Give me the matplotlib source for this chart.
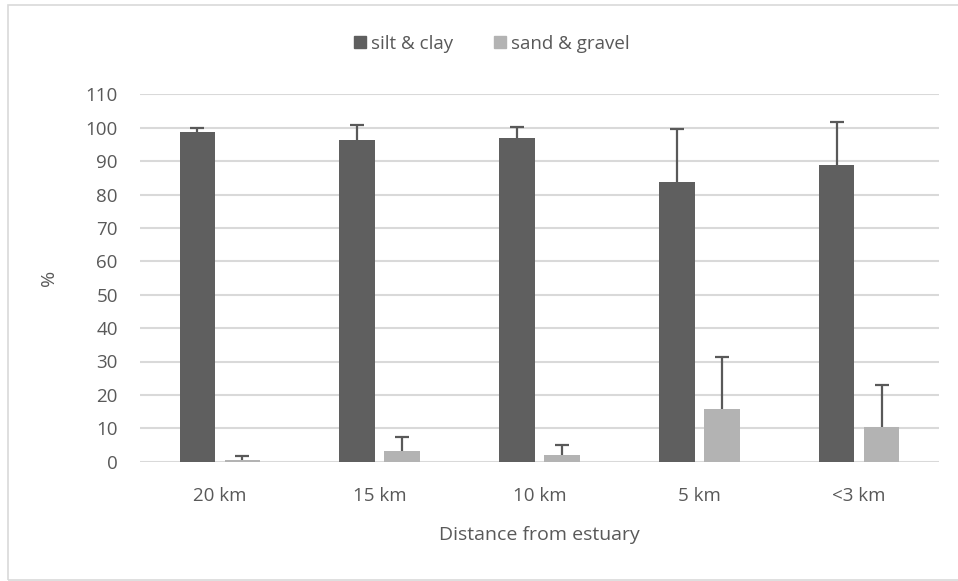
import matplotlib.pyplot as plt
from matplotlib.patches import Rectangle
from matplotlib.lines import Line2D
import numpy as np

plt.rcParams['font.family'] = ['Open Sans', 'DejaVu Sans']

# data
categories = ['20 km', '15 km', '10 km', '5 km', '<3 km']
silt_clay = [98.6, 96.3, 97.0, 83.8, 88.8]
silt_clay_err = [1.4, 4.5, 3.3, 15.8, 12.8]
sand_gravel = [0.5, 3.2, 2.0, 15.8, 10.4]
sand_gravel_err = [1.3, 4.3, 2.9, 15.5, 12.5]
yticks = list(range(0, 111, 10))

txt = '#595959'
dark = '#5f5f5f'
light = '#b3b3b3'
grid = '#d9d9d9'

fig = plt.figure(figsize=(9.58, 5.81), dpi=100)
ax = fig.add_axes([140/958, (581-461.7)/581, 799/958, 367.4/581])

x = np.arange(len(categories))
w = 0.222
off = 0.141

ax.bar(x - off, silt_clay, w, color=dark, zorder=3)
ax.bar(x + off, sand_gravel, w, color=light, zorder=3)
for xs, vals, errs in [(x - off, silt_clay, silt_clay_err), (x + off, sand_gravel, sand_gravel_err)]:
    eb = ax.errorbar(xs, vals, yerr=[np.zeros(len(x)), errs], fmt='none',
                     ecolor=txt, elinewidth=1.6, capsize=4.7, capthick=1.6, zorder=4)
    # only the upper whisker has a cap
    eb[1][0].set_visible(False)

ax.set_xlim(-0.5, len(categories) - 0.5)
ax.set_ylim(0, 110)
ax.set_yticks(yticks)
ax.set_xticks(x)
ax.set_xticklabels(categories)
ax.yaxis.grid(True, color=grid, linewidth=1.5, zorder=0)
ax.set_axisbelow(True)
for s in ax.spines.values():
    s.set_visible(False)
ax.tick_params(length=0, labelsize=13.5, colors=txt)
ax.tick_params(axis='y', pad=16)
ax.tick_params(axis='x', pad=18)

ax.set_xlabel('Distance from estuary', fontsize=14, color=txt, labelpad=15)
ax.set_ylabel('%', fontsize=14, color=txt)
ax.yaxis.set_label_coords((58 - 140) / 799, 0.5)

handles = [Line2D([], [], marker='s', linestyle='none', markersize=8, color=dark),
           Line2D([], [], marker='s', linestyle='none', markersize=8, color=light)]
fig.legend(handles, ['silt & clay', 'sand & gravel'], loc='center',
           bbox_to_anchor=(490/958, 1 - 44/581), ncol=2, frameon=False,
           fontsize=13.5, labelcolor=txt, handletextpad=0.1, columnspacing=2.0,
           handlelength=1.0)

fig.patches.append(Rectangle((8/958, 1/581), 1.0, 1 - 6/581, transform=fig.transFigure,
                             fill=False, edgecolor=grid, linewidth=1.2))

fig.savefig('out.png', dpi=100)
